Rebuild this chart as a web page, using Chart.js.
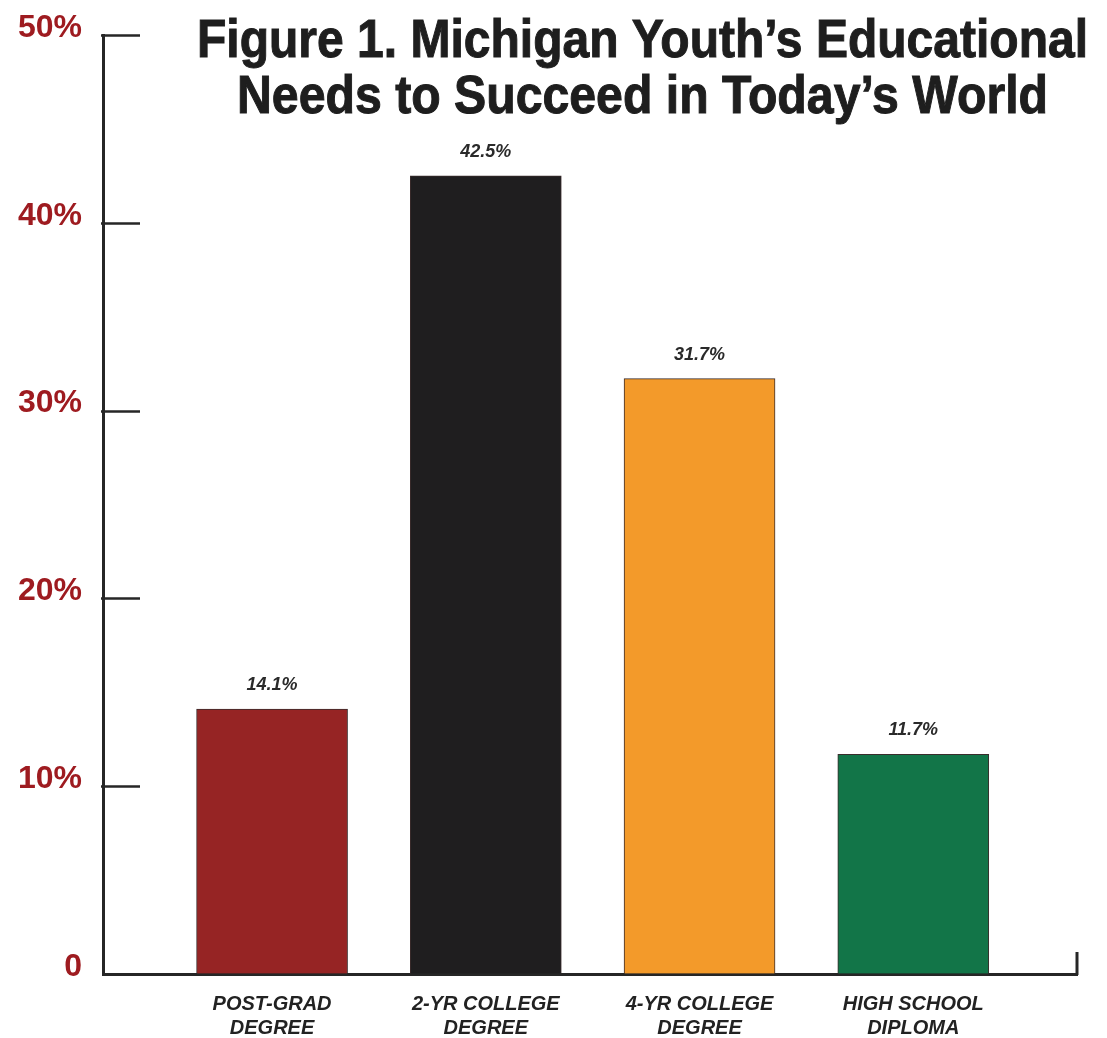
<!DOCTYPE html>
<html><head><meta charset="utf-8">
<script src="https://cdn.jsdelivr.net/npm/chart.js@4/dist/chart.umd.min.js"></script>
<style>html,body{margin:0;padding:0;background:#fff;} #wrap{width:1107px;height:1038px;position:relative;}</style>
</head><body><div id="wrap"><canvas id="c" width="1107" height="1038"></canvas></div>
<script>
const categories = [["POST-GRAD","DEGREE"],["2-YR COLLEGE","DEGREE"],["4-YR COLLEGE","DEGREE"],["HIGH SCHOOL","DIPLOMA"]];
const values = [14.1, 42.5, 31.7, 11.7];
const valueLabels = ["14.1%","42.5%","31.7%","11.7%"];
const barColors = ["#962424","#1f1e1f","#f39a2a","#127548"];
const yTicks = [0,10,20,30,40,50];
const yTickLabels = ["0","10%","20%","30%","40%","50%"];
const titleLines = ["Figure 1. Michigan Youth\u2019s Educational","Needs to Succeed in Today\u2019s World"];

const FONT = "'Liberation Sans', Arial, Helvetica, sans-serif";
const AXIS = "#262626";

const decor = {
  id: 'decor',
  afterDraw(chart) {
    const ctx = chart.ctx, ca = chart.chartArea, ys = chart.scales.y;
    ctx.save();
    // inner tick marks
    ctx.strokeStyle = AXIS; ctx.lineWidth = 2.5;
    yTicks.forEach(v => {
      if (v === 0) return;
      const y = Math.round(ys.getPixelForValue(v)) + 0.5;
      ctx.beginPath(); ctx.moveTo(ca.left - 2, y); ctx.lineTo(ca.left + 37, y); ctx.stroke();
    });
    // right end tick of x axis
    ctx.lineWidth = 3;
    ctx.beginPath(); ctx.moveTo(ca.right, ca.bottom + 1); ctx.lineTo(ca.right, ca.bottom - 22); ctx.stroke();
    // value labels
    const meta = chart.getDatasetMeta(0);
    ctx.fillStyle = "#2a2a2a";
    ctx.font = "italic bold 18px " + FONT;
    ctx.textAlign = "center"; ctx.textBaseline = "middle";
    meta.data.forEach((el, i) => { ctx.fillText(valueLabels[i], el.x, el.y - 24); });
    // title
    const targets = [891, 811], baselines = [57, 113];
    ctx.fillStyle = "#1e1e1e";
    ctx.font = "bold 53px " + FONT;
    ctx.textAlign = "left"; ctx.textBaseline = "alphabetic";
    ctx.strokeStyle = "#1e1e1e"; ctx.lineWidth = 1;
    titleLines.forEach((t, i) => {
      const w = ctx.measureText(t).width;
      const sx = targets[i] / w;
      ctx.save();
      ctx.translate(642.5 - targets[i] / 2, baselines[i]);
      ctx.scale(sx, 1);
      ctx.fillText(t, 0, 0);
      ctx.strokeText(t, 0, 0);
      ctx.restore();
    });
    ctx.restore();
  }
};

new Chart(document.getElementById('c'), {
  type: 'bar',
  data: {
    datasets: [{
      data: values.map((v, i) => ({ x: i, y: v })),
      backgroundColor: barColors,
      borderColor: "#3a2c2c",
      borderWidth: 1,
      barThickness: 151
    }]
  },
  options: {
    responsive: false,
    animation: false,
    devicePixelRatio: 1,
    layout: { padding: { top: 35, right: 30, left: 0, bottom: 0 } },
    plugins: { legend: { display: false }, tooltip: { enabled: false }, title: { display: false } },
    scales: {
      x: {
        type: 'linear',
        offset: false,
        min: -0.791, max: 3.766,
        afterBuildTicks: s => { s.ticks = categories.map((c, i) => ({ value: i })); },
        afterFit: s => { s.height = 64; },
        grid: { drawOnChartArea: false, drawTicks: false, color: 'rgba(0,0,0,0)', offset: false },
        border: { display: true, color: AXIS, width: 3 },
        ticks: {
          autoSkip: false, maxRotation: 0, padding: 18,
          color: "#222",
          font: { family: FONT, size: 20, weight: 'bold', style: 'italic', lineHeight: 1.2 },
          callback: v => categories[v]
        }
      },
      y: {
        min: 0, max: 50,
        afterBuildTicks: s => { s.ticks = yTicks.map(v => ({ value: v })); },
        afterFit: s => { s.width = 103; },
        grid: { drawOnChartArea: false, drawTicks: false, color: 'rgba(0,0,0,0)' },
        border: { display: true, color: AXIS, width: 3 },
        ticks: {
          padding: 21,
          color: "#9e1b20",
          font: { family: FONT, size: 32, weight: 'bold', lineHeight: '14px' },
          callback: v => [yTickLabels[yTicks.indexOf(v)], '']
        }
      }
    }
  },
  plugins: [decor]
});
</script>
</body></html>
